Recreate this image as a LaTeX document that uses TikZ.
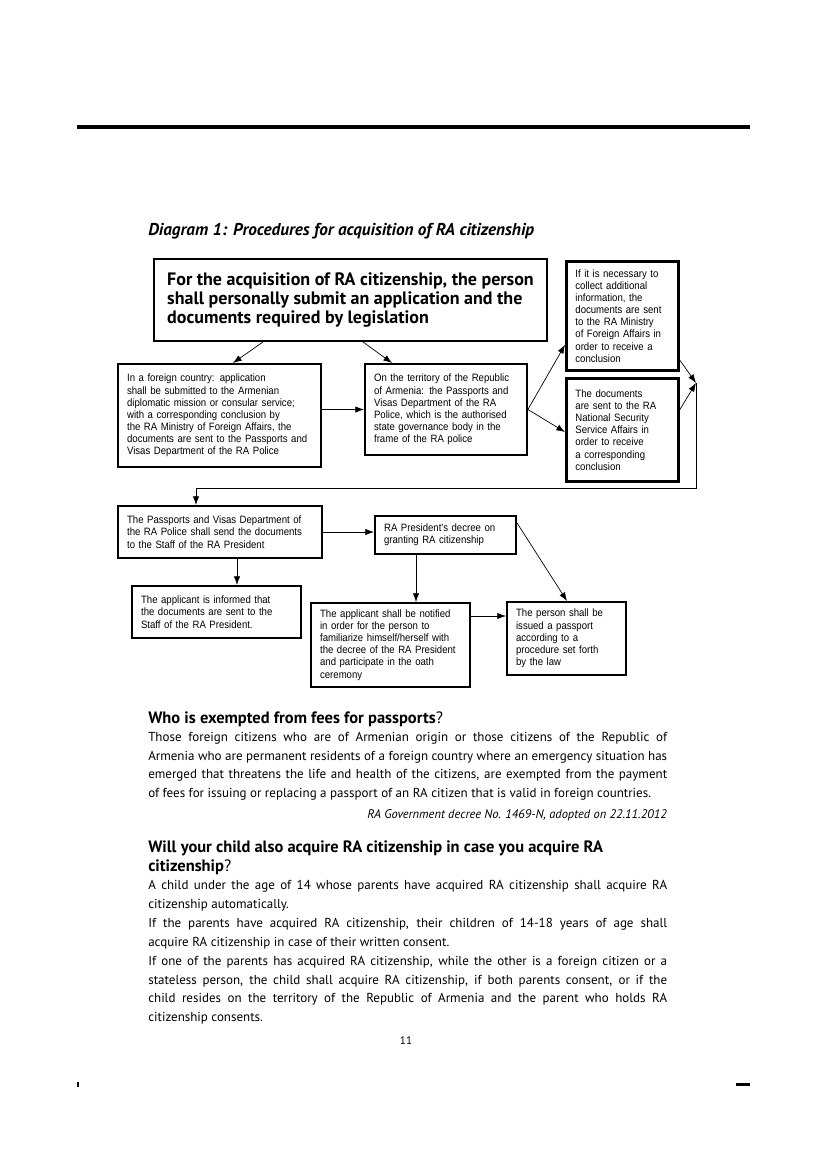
\documentclass[tikz,border=0pt]{standalone}
\usepackage{fontspec}
\setmainfont{PT Sans}
\newfontfamily\boxfont[FakeStretch=0.9]{Liberation Sans}
\usetikzlibrary{positioning}
\usetikzlibrary{calc}
\usetikzlibrary{arrows.meta}

\tikzset{
	flowbox/.style={draw, line width=1.5pt, anchor=north west, inner xsep=2.3mm, inner ysep=0pt, align=left, font=\boxfont\fontsize{7.7}{8.8}\selectfont},
	heavybox/.style={flowbox, line width=2pt},
	flowline/.style={line width=0.5pt, -{Latex[length=2.2mm,width=1.6mm]}},
	para/.style={anchor=north west, inner sep=0pt, text width=131.8mm, align=justify, font=\fontsize{9.4}{13.5}\selectfont},
	question/.style={anchor=north west, inner sep=0pt, align=left, font=\bfseries\fontsize{11.9}{13.7}\selectfont}
}

\begin{document}
\begin{tikzpicture}[x=0.254mm, y=-0.254mm]
	\useasboundingbox (0,0) rectangle (827,1169);
	\fill [white] (0,0) rectangle (827,1169);
	% Page rules
	\fill (77,125) rectangle (750,129);
	\fill (77,1082) rectangle (79,1087);
	\fill (736,1083) rectangle (750,1086);
	\node [anchor=base west, inner sep=0pt, font=\bfseries\itshape\fontsize{12.4}{14}\selectfont] (0title) at (148,236) {Diagram 1: Procedures for acquisition of RA citizenship};

	% Levels 1 and 2
	\node [flowbox, inner xsep=3mm, minimum width=99.8mm, minimum height=20.8mm, font=\bfseries\fontsize{13}{13.9}\selectfont] (1apply) at (153,258) {For the acquisition of RA citizenship, the person\\shall personally submit an application and the\\documents required by legislation};
	\node [heavybox, text width=23.8mm, minimum height=27.7mm] (2ask) at (565,260) {If it is necessary to\\collect additional\\information, the\\documents are sent\\to the RA Ministry\\of Foreign Affairs in\\order to receive a\\conclusion};
	\node [heavybox, text width=23.8mm, minimum height=26.2mm] (2nss) at (565,377) {The documents\\are sent to the RA\\National Security\\Service Affairs in\\order to receive\\a corresponding\\conclusion};
	\node [flowbox, text width=47mm, minimum height=26.2mm] (2abroad) at (117,363) {In a foreign country: application\\shall be submitted to the Armenian\\diplomatic mission or consular service;\\with a corresponding conclusion by\\the RA Ministry of Foreign Affairs, the\\documents are sent to the Passports and\\Visas Department of the RA Police};
	\node [flowbox, text width=36.5mm, minimum height=23.1mm] (2territory) at (364,363) {On the territory of the Republic\\of Armenia: the Passports and\\Visas Department of the RA\\Police, which is the authorised\\state governance body in the\\frame of the RA police};
	\coordinate (2join) at (696,383);
	\coordinate (2turn) at (696,488);

	% Levels 3 and 4
	\node [flowbox, text width=47.2mm, minimum height=13.2mm] (3police) at (117,505) {The Passports and Visas Department of\\the RA Police shall send the documents\\to the Staff of the RA President};
	\node [flowbox, text width=31.2mm, minimum height=9.7mm] (3decree) at (374,515) {RA President's decree on\\granting RA citizenship};
	\node [flowbox, text width=38.3mm, minimum height=13.2mm] (4informed) at (131,585) {The applicant is informed that\\the documents are sent to the\\Staff of the RA President.};
	\node [flowbox, text width=35.8mm, minimum height=21.3mm] (4notified) at (310,602) {The applicant shall be notified\\in order for the person to\\familiarize himself/herself with\\the decree of the RA President\\and participate in the oath\\ceremony};
	\node [flowbox, text width=25.6mm, minimum height=18.5mm] (4passport) at (506,601) {The person shall be\\issued a passport\\according to a\\procedure set forth\\by the law};
	\coordinate (3policedrop) at ($(3police.south west)+(120,0)$);
	\coordinate (3decreedrop) at ($(3decree.south west)+(42,0)$);
	\coordinate (4notifiedout) at ($(4notified.north east)+(0,14)$);

	% Connections
	\draw [flowline] ($(1apply.south west)+(110,0)$) -- ($(2abroad.north west)+(116,0)$);
	\draw [flowline] ($(1apply.south west)+(210,0)$) -- ($(2territory.north west)+(28,0)$);
	\draw [flowline] (2abroad.east |- 2territory.west) -- (node cs:name=2territory, anchor=west);
	\draw [flowline] (node cs:name=2territory, anchor=east) -- ($(2ask.south west)+(0,-27)$);
	\draw [flowline] (node cs:name=2territory, anchor=east) -- ($(2nss.north west)+(0,55)$);
	\draw [flowline] ($(2ask.south east)+(0,-12)$) -- (2join);
	\draw [flowline] ($(2nss.north east)+(0,33)$) -- (2join);
	\draw [flowline] (2join) -- (2turn) -| ($(3police.north west)+(79,0)$);
	\draw [flowline] (node cs:name=3police, anchor=east) -- (3police.east -| 3decree.west);
	\draw [flowline] (3policedrop) -- (3policedrop |- 4informed.north);
	\draw [flowline] (3decreedrop) -- (3decreedrop |- 4notified.north);
	\draw [flowline] (4notifiedout) -- (4notifiedout -| 4passport.west);
	\draw [flowline] ($(3decree.north east)+(0,8)$) -- ($(4passport.north west)+(61,0)$);

	% Text below the diagram
	\node [question] (5feesq) at (148,711) {Who is exempted from fees for passports{\mdseries ?}};
	\node [para] (5fees) at (148,732) {Those foreign citizens who are of Armenian origin or those citizens of the Republic of\linebreak Armenia who are permanent residents of a foreign country where an emergency situation has\linebreak emerged that threatens the life and health of the citizens, are exempted from the payment\linebreak of fees for issuing or replacing a passport of an RA citizen that is valid in foreign countries.};
	\node [anchor=base east, inner sep=0pt, font=\itshape\fontsize{9}{11}\selectfont] (5govref) at (667,818) {RA Government decree No. 1469-N, adopted on 22.11.2012};
	\node [question] (6childq) at (148,841) {Will your child also acquire RA citizenship in case you acquire RA\\citizenship{\mdseries ?}};
	\node [para] (6under) at (148,880) {A child under the age of 14 whose parents have acquired RA citizenship shall acquire RA\linebreak citizenship automatically.};
	\node [para] (6teen) at (148,918) {If the parents have acquired RA citizenship, their children of 14-18 years of age shall\linebreak acquire RA citizenship in case of their written consent.};
	\node [para] (6one) at (148,956) {If one of the parents has acquired RA citizenship, while the other is a foreign citizen or a\linebreak stateless person, the child shall acquire RA citizenship, if both parents consent, or if the\linebreak child resides on the territory of the Republic of Armenia and the parent who holds RA\linebreak citizenship consents.};
	\node [font=\fontsize{8}{9}\selectfont] (7page) at (406,1041) {11};
\end{tikzpicture}
\end{document}
